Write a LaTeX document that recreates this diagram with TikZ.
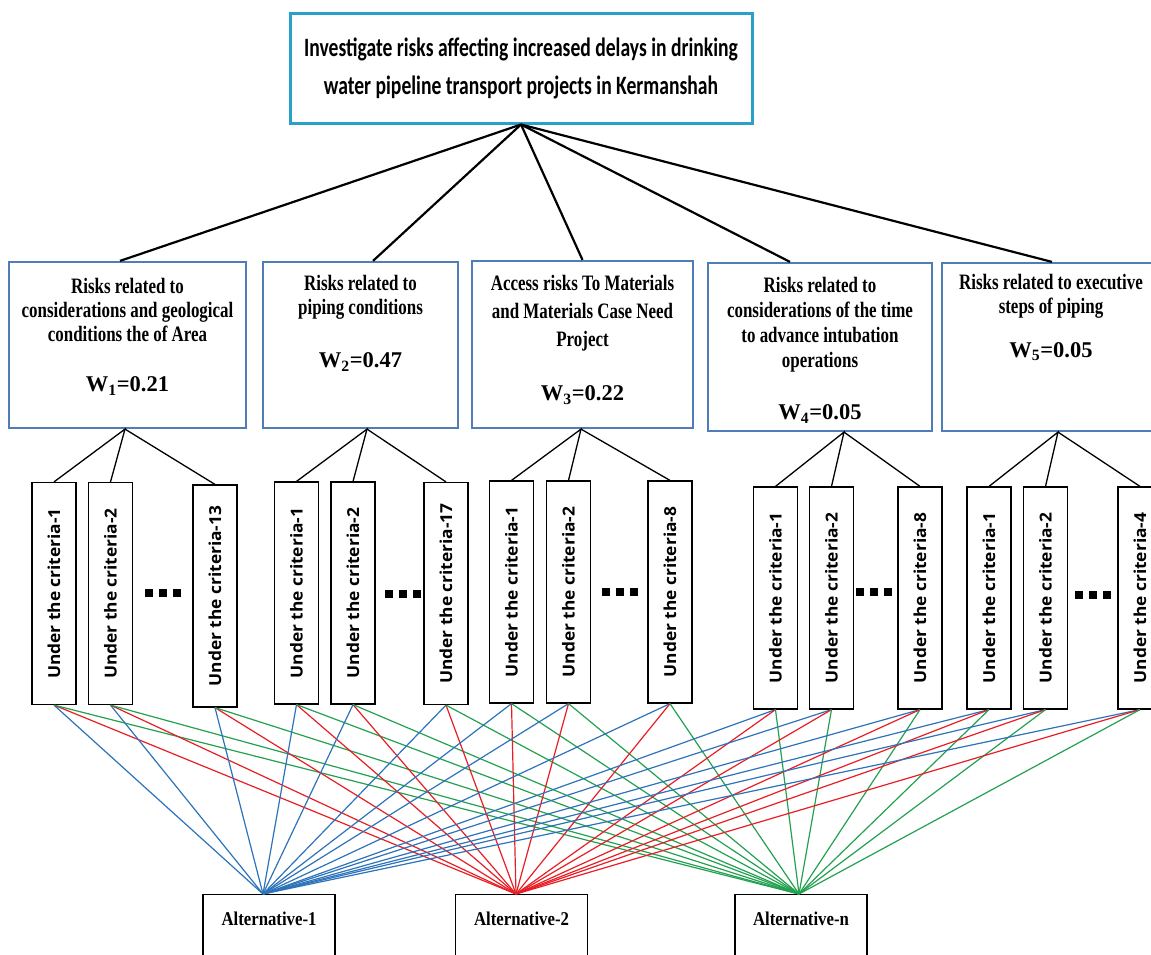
\documentclass[tikz,border=0pt]{standalone}
\usepackage{fontspec}
\usepackage{graphicx}
\setmainfont{Liberation Serif}
\newfontfamily\titlefont{Carlito}[FakeStretch=0.74]
\newfontfamily\critfont{Liberation Serif}[FakeStretch=0.77]
\newfontfamily\altfont{Liberation Serif}[FakeStretch=0.86]
\newfontfamily\subfont{Open Sans}[FakeStretch=1.05]
\definecolor{topc}{RGB}{40,160,200}
\definecolor{critc}{RGB}{80,125,185}
\definecolor{lblue}{RGB}{45,115,185}
\definecolor{lred}{RGB}{232,30,36}
\definecolor{lgreen}{RGB}{35,160,80}
\begin{document}
\begin{tikzpicture}[x=1pt,y=-1pt,
  topbox/.style={draw=topc, line width=3pt, minimum width=462, minimum height=110, inner sep=0,
    align=center, font=\titlefont\bfseries\fontsize{26.5}{38}\selectfont},
  critbox/.style={draw=critc, line width=2.2pt, inner sep=0},
  crittext/.style={font=\critfont\bfseries\fontsize{22}{24}\selectfont, align=center, inner sep=0},
  wtext/.style={font=\fontsize{22.5}{26}\selectfont\bfseries, inner sep=0},
  subbox/.style={draw=black, line width=1.2pt, minimum width=44, minimum height=222, inner sep=0,
    font=\subfont\bfseries\fontsize{16.5}{18}\selectfont},
  altbox/.style={draw=black, line width=1.2pt, minimum width=132, inner sep=0, anchor=north,
    text height=31pt, text depth=49pt, font=\altfont\bfseries\fontsize{19.5}{20}\selectfont},
  topline/.style={line width=2.2pt, black},
  subline/.style={line width=1.3pt, black},
  cline/.style={line width=1.2pt},
  dotsq/.style={fill=black}
]
\useasboundingbox (0,0) rectangle (1151,954);

% top
\node[topbox] (top) at (521,68) {Investigate risks affecting increased delays in drinking\\water pipeline transport projects in Kermanshah};

% criteria boxes
\node[critbox, minimum width=237, minimum height=166] (c1) at (127.5,345) {};
\node[critbox, minimum width=195, minimum height=166] (c2) at (360.5,345) {};
\node[critbox, minimum width=221, minimum height=167] (c3) at (582.5,344.5) {};
\node[critbox, minimum width=224, minimum height=168] (c4) at (820,347) {};
\node[critbox, minimum width=218, minimum height=168] (c5) at (1051,347) {};

\node[crittext] (t1) at (127.5,310) {Risks related to\\considerations and geological\\conditions the of Area};
\node[wtext] (w1) at (127.5,386) {W\textsubscript{1}=0.21};
\node[crittext] (t2) at (360.5,297.5) {Risks related to\\piping conditions};
\node[wtext] (w2) at (360.5,362) {W\textsubscript{2}=0.47};
\node[crittext, font=\critfont\bfseries\fontsize{22}{28}\selectfont] (t3) at (582.5,313) {Access risks To Materials\\and Materials Case Need\\Project};
\node[wtext] (w3) at (582.5,395) {W\textsubscript{3}=0.22};
\node[crittext, font=\critfont\bfseries\fontsize{22}{25}\selectfont] (t4) at (820,325) {Risks related to\\considerations of the time\\to advance intubation\\operations};
\node[wtext] (w4) at (820,414) {W\textsubscript{4}=0.05};
\node[crittext] (t5) at (1051,296.5) {Risks related to executive\\steps of piping};
\node[wtext] (w5) at (1051,352) {W\textsubscript{5}=0.05};

\draw[topline] (top.south) -- ([xshift=-7.5pt]c1.north);
\draw[topline] (top.south) -- ([xshift=12.5pt]c2.north);
\draw[topline] (top.south) -- (c3.north);
\draw[topline] (top.south) -- ([xshift=-30pt]c4.north);
\draw[topline] (top.south) -- ([xshift=1pt]c5.north);

% sub boxes
\node[subbox] (s11) at (54,593.5) {\rotatebox{90}{Under the criteria-1}};
\node[subbox] (s12) at (110.5,593.5) {\rotatebox{90}{Under the criteria-2}};
\node[subbox] (s113) at (215,596) {\rotatebox{90}{Under the criteria-13}};
\node[subbox] (s21) at (296.5,593) {\rotatebox{90}{Under the criteria-1}};
\node[subbox] (s22) at (353,593) {\rotatebox{90}{Under the criteria-2}};
\node[subbox] (s217) at (446,593.5) {\rotatebox{90}{Under the criteria-17}};
\node[subbox] (s31) at (511.5,592) {\rotatebox{90}{Under the criteria-1}};
\node[subbox] (s32) at (568.5,592) {\rotatebox{90}{Under the criteria-2}};
\node[subbox] (s38) at (670,592) {\rotatebox{90}{Under the criteria-8}};
\node[subbox] (s41) at (775.5,598) {\rotatebox{90}{Under the criteria-1}};
\node[subbox] (s42) at (831.5,598) {\rotatebox{90}{Under the criteria-2}};
\node[subbox] (s48) at (920,598) {\rotatebox{90}{Under the criteria-8}};
\node[subbox] (s51) at (989,598) {\rotatebox{90}{Under the criteria-1}};
\node[subbox] (s52) at (1045.5,598) {\rotatebox{90}{Under the criteria-2}};
\node[subbox] (s54) at (1140,598) {\rotatebox{90}{Under the criteria-4}};

% criteria to sub
\foreach \c/\dx/\a/\b/\d in {c1/-2.5/s11/s12/s113, c2/6.5/s21/s22/s217, c3/-1.5/s31/s32/s38, c4/24/s41/s42/s48, c5/7/s51/s52/s54}{
  \draw[subline] (\a.north) -- ([xshift=\dx pt]\c.south) -- (\b.north);
  \draw[subline] ([xshift=\dx pt]\c.south) -- (\d.north);
}

% dots
\foreach \x/\y in {145/593, 385/594, 602/592, 856/592, 1075/595}{
  \foreach \k in {0,14,28}{
    \fill[dotsq] (\x+\k,\y-4) rectangle (\x+\k+8,\y+4);
  }
}

% alternatives
\node[altbox] (a1) at (269,894) {Alternative-1};
\node[altbox] (a2) at (521.5,894) {Alternative-2};
\node[altbox] (a3) at (801,894) {Alternative-n};
\coordinate (p1) at ([xshift=-6pt]a1.north);
\coordinate (p2) at ([xshift=-5.5pt]a2.north);
\coordinate (p3) at ([xshift=-2pt]a3.north);

\foreach \s in {s11,s12,s113,s21,s22,s217,s31,s32,s38,s41,s42,s48,s51,s52,s54}{
  \draw[cline, lblue] (\s.south) -- (p1);
  \draw[cline, lred] (\s.south) -- (p2);
  \draw[cline, lgreen] (\s.south) -- (p3);
}
\end{tikzpicture}
\end{document}
